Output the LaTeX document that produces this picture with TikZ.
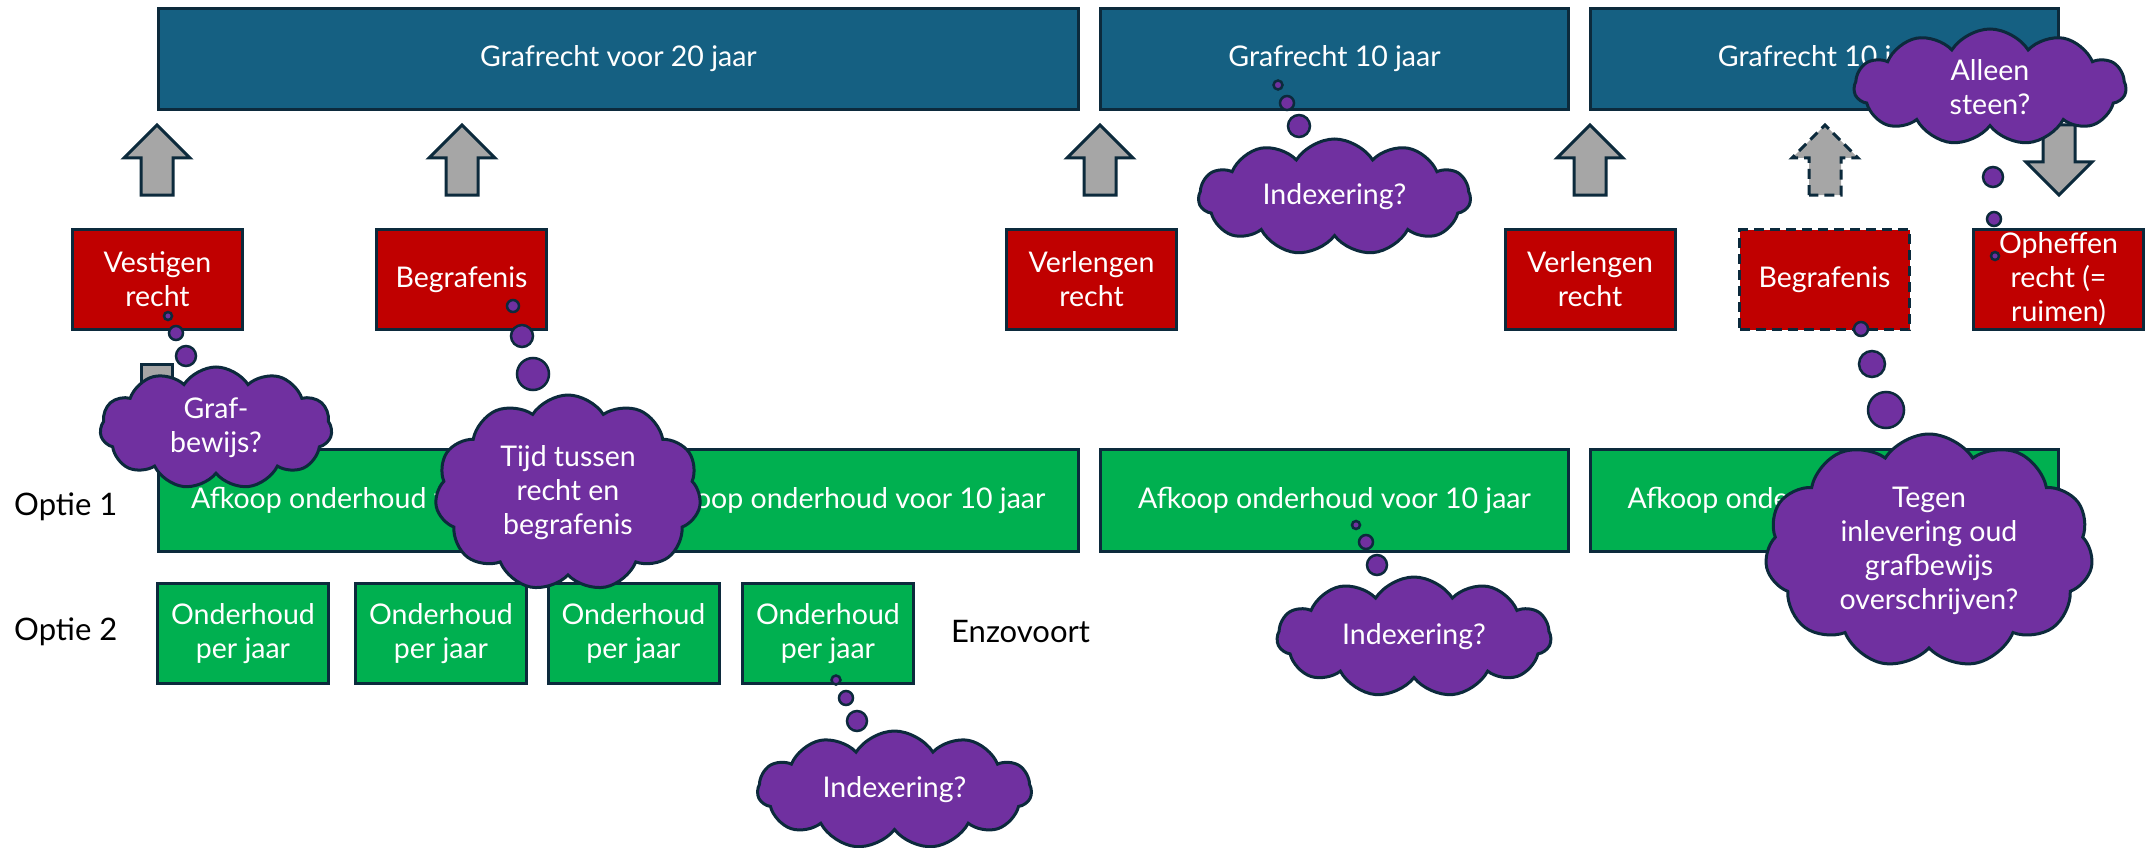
\documentclass[tikz,border=0pt]{standalone}
\usepackage{fontspec}
\setmainfont{Lato}
\usetikzlibrary{shapes.symbols}

\definecolor{grafblauw}{HTML}{156082}
\definecolor{donker}{HTML}{0C2A3C}
\definecolor{rood}{HTML}{C00000}
\definecolor{groen}{HTML}{00B050}
\definecolor{paars}{HTML}{7030A0}
\definecolor{grijs}{HTML}{A6A6A6}

\newcommand{\tekst}{\fontsize{28.5}{34}\selectfont}
\newcommand{\optiefont}{\fontsize{31}{36}\selectfont}

% block arrow pointing up, #2 = x of the tip
\newcommand{\oppijl}[2][]{\draw[pijl,#1] ({#2-16},195) -- ({#2-16},158) -- ({#2-33},158) -- (#2,125)
  -- ({#2+33},158) -- ({#2+16},158) -- ({#2+16},195) -- cycle;}

\begin{document}
\begin{tikzpicture}[x=1pt, y=-1pt,
    blok/.style={draw=donker, line width=3pt, inner sep=0pt, align=center, text=white, font=\tekst},
    grafrecht/.style={blok, fill=grafblauw, minimum width=468pt, minimum height=101pt},
    actie/.style={blok, fill=rood, minimum width=170pt, minimum height=100pt},
    afkoop/.style={blok, fill=groen, minimum width=468pt, minimum height=102pt},
    perjaar/.style={blok, fill=groen, minimum width=171pt, minimum height=100pt},
    wolk/.style={cloud, cloud puffs=11, cloud puff arc=115, cloud ignores aspect, draw=donker,
      line width=3pt, fill=paars, text=white, inner sep=0pt, align=center, font=\tekst},
    bel/.style={draw=donker, line width=2.5pt, fill=paars},
    pijl/.style={draw=donker, line width=3pt, fill=grijs, line join=miter},
    optie/.style={anchor=west, inner sep=0pt, font=\optiefont}]
  \useasboundingbox (0,0) rectangle (2145,848);

  % grafrechten
  \node[grafrecht, minimum width=920pt] (recht20) at (618.5,59) {Grafrecht voor 20 jaar};
  \node[grafrecht] (rechtA) at (1334.5,59) {Grafrecht 10 jaar};
  \node[grafrecht] (rechtB) at (1824,59) {Grafrecht 10 jaar};

  % pijlen
  \oppijl{157}
  \oppijl{462}
  \oppijl{1100}
  \oppijl{1590}
  \oppijl[dash pattern=on 10pt off 6pt]{1825}
  \draw[pijl] (2043,125) -- (2043,162) -- (2026,162) -- (2059,195) -- (2092,162) -- (2075,162) -- (2075,125) -- cycle;

  % handelingen
  \node[actie] (vestigen) at (157.5,279.5) {Vestigen\\recht};
  \node[actie] (begrafenis) at (461.5,279.5) {Begrafenis};
  \node[actie] (verlengenA) at (1091.5,279.5) {Verlengen\\recht};
  \node[actie] (verlengenB) at (1590,279.5) {Verlengen\\recht};
  \node[actie, dash pattern=on 10pt off 6pt] (begrafenisB) at (1824.5,279.5) {Begrafenis};
  \node[actie] (opheffen) at (2058.5,279.5) {Opheffen\\recht (=\\ruimen)};

  \draw[pijl] (141,400) -- (141,364) -- (172,364) -- (172,400);

  % optie 1
  \node[optie] (optie1) at (14,507) {Optie 1};
  \node[afkoop, minimum width=459pt] (afkoopA) at (387.5,500.5) {Afkoop onderhoud voor 10 jaar};
  \node[afkoop, minimum width=459pt] (afkoopB) at (849,500.5) {Afkoop onderhoud voor 10 jaar};
  \node[afkoop] (afkoopC) at (1334.5,500.5) {Afkoop onderhoud voor 10 jaar};
  \node[afkoop] (afkoopD) at (1824,500.5) {Afkoop onderhoud voor 10 jaar};

  % optie 2
  \node[optie] (optie2) at (14,632) {Optie 2};
  \node[perjaar] (jaar1) at (243,633.5) {Onderhoud\\per jaar};
  \node[perjaar] (jaar2) at (441,633.5) {Onderhoud\\per jaar};
  \node[perjaar] (jaar3) at (633.5,633.5) {Onderhoud\\per jaar};
  \node[perjaar] (jaar4) at (828,633.5) {Onderhoud\\per jaar};
  \node[optie] (enzovoort) at (951,632) {Enzovoort};

  % gedachten
  \path[bel] (168,316) circle (4) (176,333) circle (7) (186,356) circle (10);
  \node[wolk, minimum width=232pt, minimum height=122pt] (grafbewijs) at (216,428) {Graf-\\bewijs?};

  \path[bel] (513,306) circle (6) (522,336) circle (11) (533,374) circle (16);
  \node[wolk, minimum width=266pt, minimum height=196pt] (tussentijd) at (568,493) {Tijd tussen\\recht en\\begrafenis};

  \path[bel] (1278,85) circle (4.5) (1287,103) circle (7) (1299,126) circle (11);
  \node[wolk, minimum width=272pt, minimum height=116pt] (indexA) at (1334.5,197) {Indexering?};

  \path[bel] (1995,256) circle (4) (1994,219) circle (7) (1993,177) circle (10);
  \node[wolk, minimum width=272pt, minimum height=116pt] (steen) at (1990,87) {Alleen\\steen?};

  \path[bel] (1861,329) circle (7) (1872,364) circle (13) (1886,410) circle (18);
  \node[wolk, minimum width=328pt, minimum height=234pt] (overschrijven) at (1929,551) {Tegen\\inlevering oud\\grafbewijs\\overschrijven?};

  \path[bel] (1356,525) circle (4) (1366,542) circle (7) (1377,565) circle (10);
  \node[wolk, minimum width=274pt, minimum height=120pt] (indexB) at (1414,637) {Indexering?};

  \path[bel] (836,680) circle (4.5) (846,698) circle (7) (857,721) circle (10);
  \node[wolk, minimum width=274pt, minimum height=118pt] (indexC) at (894.5,790) {Indexering?};
\end{tikzpicture}
\end{document}
